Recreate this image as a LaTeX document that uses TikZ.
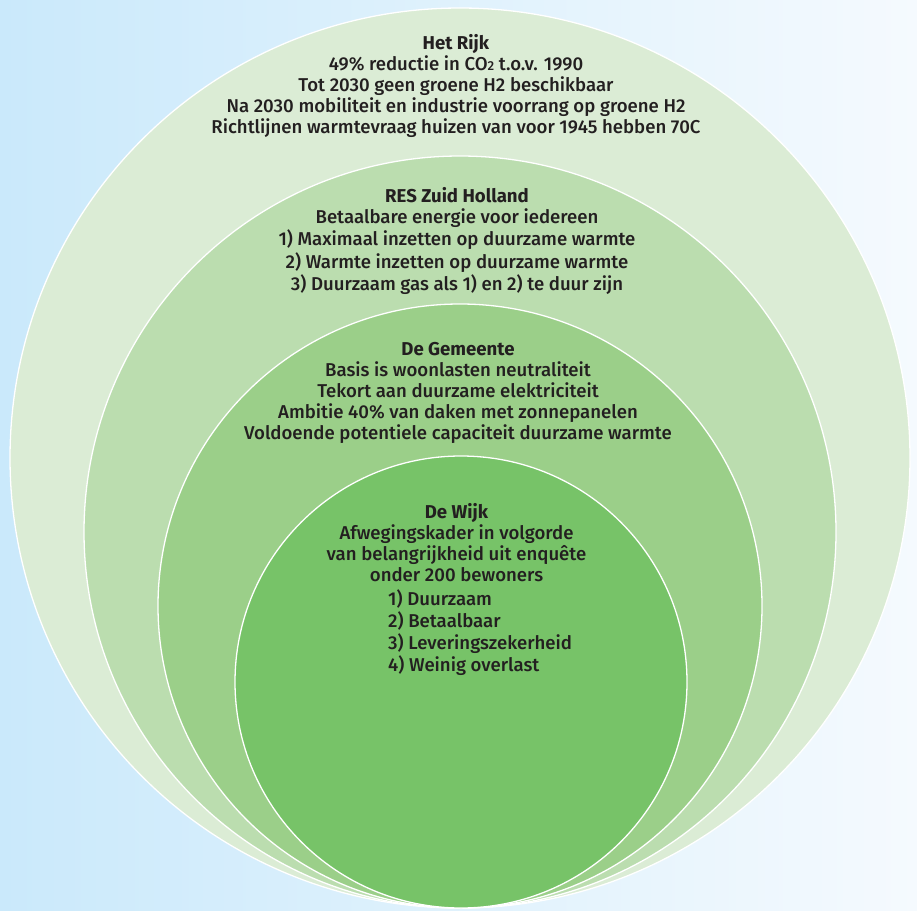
\documentclass[tikz,border=0pt]{standalone}
\usepackage{fontspec}
\setmainfont{Fira Sans}[UprightFont={* Medium},BoldFont={* Bold}]
\definecolor{bgL}{HTML}{CAE9FB}
\definecolor{bgR}{HTML}{F5FAFE}
\definecolor{ringA}{HTML}{DBECD5}
\definecolor{ringB}{HTML}{BBDDAF}
\definecolor{ringC}{HTML}{9BCF89}
\definecolor{ringD}{HTML}{77C368}
\definecolor{txt}{HTML}{231F20}
\newcommand{\sub}[1]{{\fontsize{13}{13}\selectfont #1}}
\begin{document}
\begin{tikzpicture}[x=1pt,y=-1pt,
  ring/.style={draw=white,line width=1.3pt},
  block/.style={anchor=base,inner sep=0pt,text=txt,font=\fontsize{18.6}{21}\selectfont},
]
\useasboundingbox (0,0) rectangle (917,910);
\shade[left color=bgL,right color=bgR] (0,0) rectangle (917,910);
\draw[ring,fill=ringA] (460,458) circle[radius=450];
\draw[ring,fill=ringB] (460,532) circle[radius=376];
\draw[ring,fill=ringC] (460,606) circle[radius=302];
\draw[ring,fill=ringD] (461,682) circle[radius=226];
\renewcommand{\arraystretch}{1}
\node[block] (rijk) at (456,49.3) {\begin{tabular}[t]{@{}c@{}}
\textbf{Het Rijk}\\
49\% reductie in CO\sub{2} t.o.v. 1990\\
Tot 2030 geen groene H2 beschikbaar\\
Na 2030 mobiliteit en industrie voorrang op groene H2\\
Richtlijnen warmtevraag huizen van voor 1945 hebben 70C
\end{tabular}};
\node[block] (res) at (457,202.7) {\begin{tabular}[t]{@{}c@{}}
\textbf{RES Zuid Holland}\\
Betaalbare energie voor iedereen\\
1) Maximaal inzetten op duurzame warmte\\
2) Warmte inzetten op duurzame warmte\\
3) Duurzaam gas als 1) en 2) te duur zijn
\end{tabular}};
\node[block] (gemeente) at (458,355) {\begin{tabular}[t]{@{}c@{}}
\textbf{De Gemeente}\\
Basis is woonlasten neutraliteit\\
Tekort aan duurzame elektriciteit\\
Ambitie 40\% van daken met zonnepanelen\\
Voldoende potentiele capaciteit duurzame warmte
\end{tabular}};
\node[block] (wijk) at (456.5,518.3) {\begin{tabular}[t]{@{}c@{}}
\textbf{De Wijk}\\
Afwegingskader in volgorde\\
van belangrijkheid uit enquête\\
onder 200 bewoners
\end{tabular}};
\node[block,anchor=base west] (wijklist) at (388,605) {\begin{tabular}[t]{@{}l@{}}
1) Duurzaam\\
2) Betaalbaar\\
3) Leveringszekerheid\\
4) Weinig overlast
\end{tabular}};
\end{tikzpicture}
\end{document}
